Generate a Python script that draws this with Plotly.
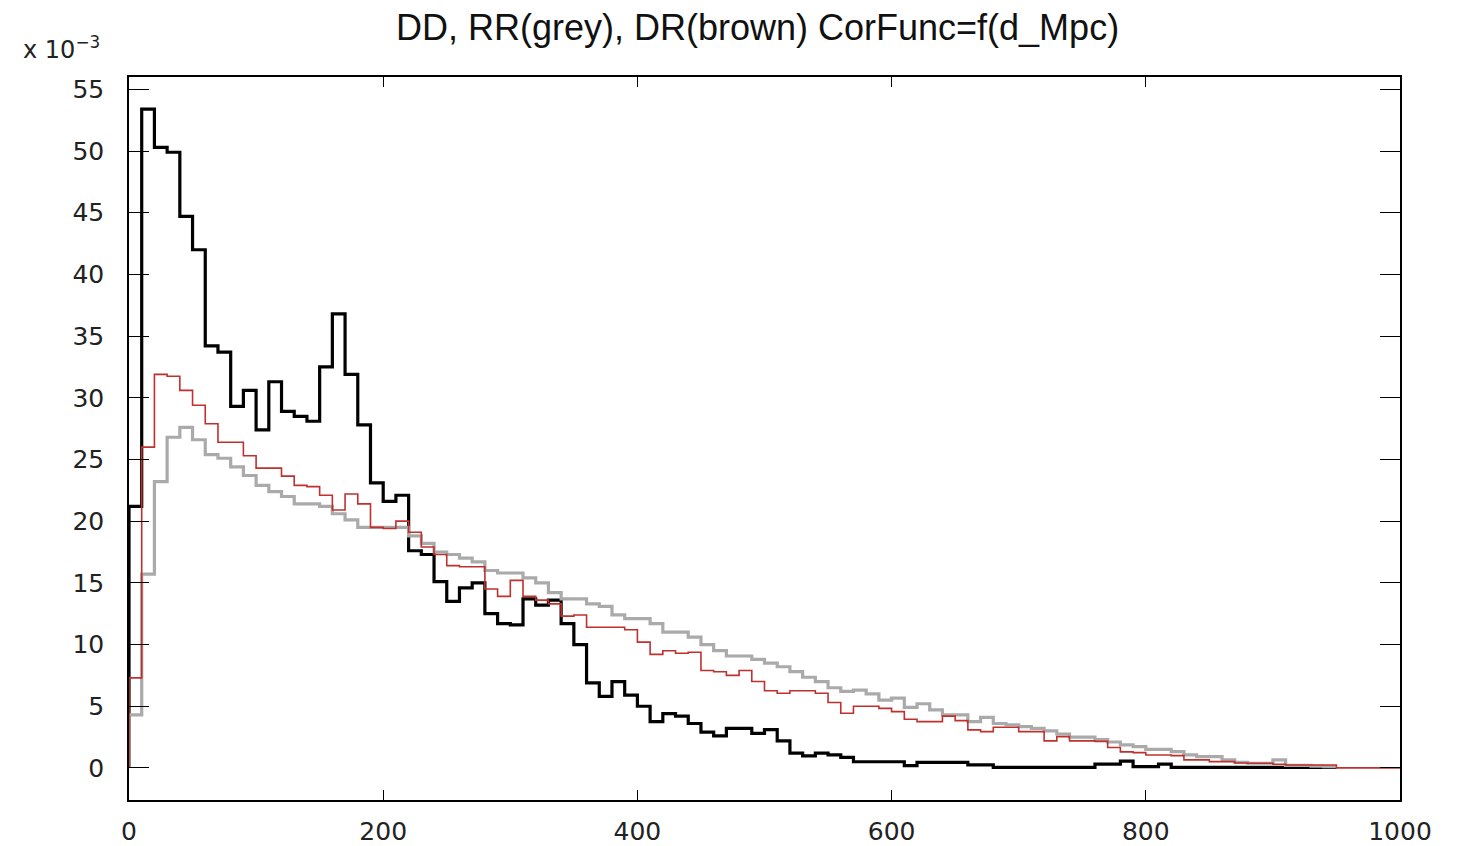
import numpy as np
import plotly.graph_objects as go

BIN_WIDTH = 10  # Mpc

# DD (black), values in units of 1e-3, bins of 10 Mpc starting at 0
dd = [21.2, 53.4, 50.3, 49.9, 44.7, 42.0, 34.2, 33.7, 29.3, 30.6,
      27.4, 31.3, 28.9, 28.5, 28.1, 32.5, 36.8, 31.9, 27.8, 23.1,
      21.6, 22.1, 17.6, 17.3, 15.1, 13.5, 14.6, 15.0, 12.5, 11.7,
      11.6, 13.7, 13.2, 13.6, 11.7, 10.0, 6.9, 5.8, 7.0, 5.9,
      5.0, 3.75, 4.4, 4.2, 3.6, 2.9, 2.6, 3.2, 3.2, 2.8,
      3.1, 2.2, 1.2, 0.97, 1.2, 1.05, 0.86, 0.5, 0.5, 0.5,
      0.5, 0.19, 0.45, 0.45, 0.45, 0.45, 0.25, 0.25, 0.05, 0.05,
      0.05, 0.05, 0.05, 0.05, 0.05, 0.05, 0.3, 0.3, 0.55, 0.1,
      0.1, 0.3, 0.05, 0.05, 0.05, 0.05, 0.05, 0.05, 0.05, 0.05,
      0.05, 0.05, 0.05, 0.05, 0.05]

# RR (grey)
rr = [4.3, 15.7, 23.2, 26.8, 27.6, 26.6, 25.4, 25.1, 24.4, 23.7,
      22.9, 22.4, 22.0, 21.4, 21.4, 21.2, 20.6, 20.1, 19.5, 19.5,
      19.5, 19.5, 18.8, 18.2, 17.5, 17.3, 17.0, 16.7, 16.0, 15.8,
      15.8, 15.4, 15.0, 14.2, 13.7, 13.7, 13.3, 13.1, 12.4, 12.1,
      12.1, 11.7, 11.0, 11.0, 10.6, 10.0, 9.5, 9.07, 9.07, 8.8,
      8.5, 8.2, 7.8, 7.35, 7.0, 6.5, 6.2, 6.3, 6.0, 5.5,
      5.65, 4.9, 5.2, 4.7, 4.3, 4.3, 3.75, 4.1, 3.6, 3.5,
      3.35, 3.2, 3.0, 2.75, 2.5, 2.5, 2.3, 2.1, 1.86, 1.73,
      1.5, 1.5, 1.32, 1.05, 0.92, 0.92, 0.65, 0.46, 0.38, 0.38,
      0.65, 0.2, 0.2, 0.15, 0.1]

# DR (brown/red)
dr = [7.3, 26.0, 31.9, 31.75, 30.6, 29.4, 27.9, 26.4, 26.4, 25.3,
      24.3, 24.3, 23.65, 22.9, 22.8, 22.1, 20.9, 22.2, 21.4, 19.5,
      19.4, 20.0, 19.1, 17.9, 17.3, 16.4, 16.3, 16.3, 14.5, 13.9,
      15.2, 13.9, 13.6, 13.3, 12.3, 12.4, 11.4, 11.4, 11.4, 11.2,
      10.2, 9.2, 9.5, 9.3, 9.37, 7.9, 7.8, 7.5, 7.9, 7.0,
      6.26, 6.05, 6.26, 6.26, 6.05, 5.3, 4.43, 5.0, 5.0, 4.83,
      4.56, 3.94, 3.75, 3.75, 4.2, 3.83, 3.08, 2.94, 3.3, 3.3,
      2.94, 2.94, 2.19, 2.54, 2.19, 2.19, 2.15, 1.65, 1.3, 1.24,
      1.05, 1.05, 1.0, 0.65, 0.65, 0.51, 0.51, 0.4, 0.38, 0.38,
      0.3, 0.24, 0.24, 0.24, 0.24, 0.0, 0.0, 0.0, 0.0, 0.0]

x_ticks = [0, 200, 400, 600, 800, 1000]
y_ticks = list(range(0, 56, 5))

TITLE = "DD, RR(grey), DR(brown) CorFunc=f(d_Mpc)"


def step_xy(vals):
    n = len(vals)
    edges = list(np.arange(0, (n + 1) * BIN_WIDTH, BIN_WIDTH))[: n + 1]
    xs = [0] + edges
    ys = [0] + list(vals) + [vals[-1]]
    return xs, ys


fig = go.Figure()
for vals, color, width in [(dd, "#000000", 3.2), (rr, "#aaaaaa", 3.2), (dr, "#c0302e", 1.6)]:
    xs, ys = step_xy(vals)
    fig.add_trace(go.Scatter(x=xs, y=ys, mode="lines", line=dict(color=color, width=width, shape="hv"),
                             showlegend=False, hoverinfo="skip"))

axis_font = dict(family="DejaVu Sans", size=25, color="#222222")
fig.update_layout(
    width=1471, height=846,
    margin=dict(l=129, r=71, t=77, b=46),
    paper_bgcolor="white", plot_bgcolor="white",
    title=dict(text=TITLE, x=0.515, xanchor="center", y=0.968, yanchor="middle",
               font=dict(family="Liberation Sans", size=36, color="#111111")),
    xaxis=dict(range=[0, 1000], tickvals=x_ticks, ticks="inside", ticklen=10, tickwidth=1.3,
               tickcolor="black", mirror="allticks", showline=True, linecolor="black", linewidth=1.5,
               showgrid=False, zeroline=False, tickfont=axis_font, ticklabelstandoff=8,
               automargin=False),
    yaxis=dict(range=[-2.6, 56.0], tickvals=y_ticks, ticks="inside", ticklen=20, tickwidth=1.3,
               tickcolor="black", mirror="allticks", showline=True, linecolor="black", linewidth=1.5,
               showgrid=False, zeroline=False, tickfont=axis_font, ticklabelstandoff=18,
               automargin=False),
    annotations=[dict(text="x 10<sup>−3</sup>", xref="paper", yref="paper", x=-0.085, y=1.04,
                      xanchor="left", yanchor="middle", showarrow=False,
                      font=dict(family="DejaVu Sans", size=24, color="#222222"))],
)

fig.write_html("out.html")
